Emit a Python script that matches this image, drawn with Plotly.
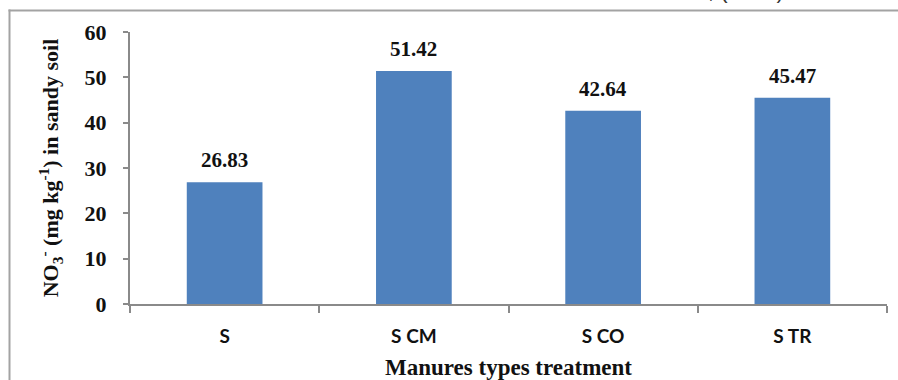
import plotly.graph_objects as go

# Nitrate content in sandy soil by manure treatment
treatments = ["S", "S CM", "S CO", "S TR"]
no3_values = [26.83, 51.42, 42.64, 45.47]
y_ticks = [0, 10, 20, 30, 40, 50, 60]

W, H = 898, 380
L, R, T, B = 130, 11, 32, 76
pw, ph = W - L - R, H - T - B


def px_x(p):
    return (p - L) / pw


def px_y(p):
    return 1 + (T - p) / ph


serif = "Liberation Serif, Times New Roman, serif"
axis_grey = "#8a8a8a"

fig = go.Figure(
    go.Bar(
        x=treatments,
        y=no3_values,
        marker=dict(color="#4F81BD", line=dict(width=0)),
        width=0.4,
        hoverinfo="x+y",
    )
)

# value labels above each bar
annotations = [
    dict(
        x=cat, y=val, xref="x", yref="y",
        text=f"<b>{val:.2f}</b>",
        showarrow=False, yanchor="bottom", yshift=8,
        font=dict(family=serif, size=21, color="#111"),
    )
    for cat, val in zip(treatments, no3_values)
]

# tail of the caption line above the chart frame
annotations.append(
    dict(
        x=px_x(706), y=px_y(5), xref="paper", yref="paper",
        text=", (2013)", showarrow=False,
        xanchor="left", yanchor="bottom",
        font=dict(family="Liberation Sans, Arial, sans-serif", size=22, color="#333"),
    )
)

fig.update_layout(
    width=W, height=H,
    margin=dict(l=L, r=R, t=T, b=B, autoexpand=False),
    paper_bgcolor="white", plot_bgcolor="white",
    showlegend=False,
    annotations=annotations,
    shapes=[
        # outer frame (top and left edges)
        dict(type="line", xref="paper", yref="paper",
             x0=px_x(8.5), x1=px_x(905), y0=px_y(10.5), y1=px_y(10.5),
             line=dict(color="#a3a3a3", width=2)),
        dict(type="line", xref="paper", yref="paper",
             x0=px_x(9.5), x1=px_x(9.5), y0=px_y(9.5), y1=px_y(390),
             line=dict(color="#a3a3a3", width=2)),
    ],
    xaxis=dict(
        type="category",
        showline=True, linecolor=axis_grey, linewidth=2,
        ticks="outside", tickson="boundaries", ticklen=7, tickwidth=1.5, tickcolor=axis_grey,
        tickfont=dict(family="Lato, Open Sans, sans-serif", size=19, color="#111"),
        ticktext=[f"<b>{t}</b>" for t in treatments], tickvals=treatments,
        ticklabelstandoff=14,
        showgrid=False, zeroline=False,
        title=dict(text="<b>Manures types treatment</b>",
                   font=dict(family=serif, size=23, color="#111"), standoff=19),
    ),
    yaxis=dict(
        range=[0, 60], tickvals=y_ticks,
        ticktext=[f"<b>{v}</b>" for v in y_ticks],
        showline=True, linecolor=axis_grey, linewidth=2,
        ticks="outside", ticklen=5, tickwidth=1.5, tickcolor=axis_grey,
        tickfont=dict(family=serif, size=22, color="#111"),
        ticklabelstandoff=12,
        showgrid=False, zeroline=False,
        title=dict(text="<b>NO<sub>3</sub><sup>-</sup> (mg kg<sup>-1</sup>) in sandy soil</b>",
                   font=dict(family=serif, size=22, color="#111"), standoff=20),
    ),
)

fig.write_html("out.html")
